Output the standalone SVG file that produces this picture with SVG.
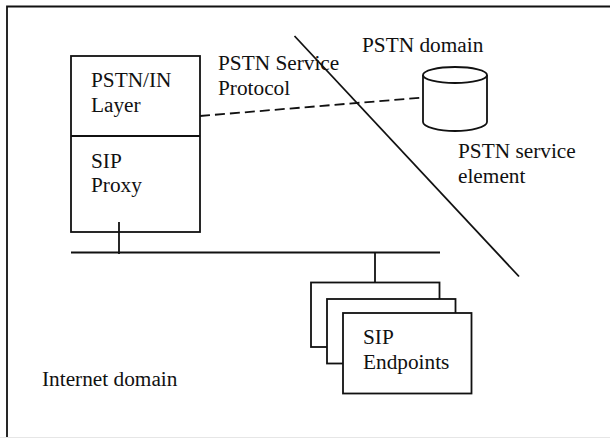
<svg xmlns="http://www.w3.org/2000/svg" width="610" height="438" viewBox="0 0 610 438">
<style>
text{font-family:"Liberation Serif","Times New Roman",serif;font-size:21.300px;fill:#111}
.s{fill:#fff;stroke:#111;stroke-width:1.800}
.l{fill:none;stroke:#111;stroke-width:1.800}
</style>
<rect width="610" height="438" fill="#fff"/>
<rect x="0" y="437" width="610" height="1" fill="#e6e6e6"/>
<g id="frame"><path class="l" d="M7 437V6.500H610"/></g>
<g id="connectors">
<path class="l" d="M71 252.500H440"/>
<path class="l" d="M119 222V254"/>
<path class="l" d="M375 252V284"/>
<path class="l" d="M294.500 36L519 276.500"/>
<path class="l" stroke-dasharray="10 5" d="M200 116L423 97.500"/>
</g>
<g id="proxy">
<rect class="s" x="71" y="56" width="129" height="176"/>
<path class="l" d="M71 136H200"/>
<path class="l" d="M119 222V232"/>
<text x="91" y="87">PSTN/IN</text>
<text x="91" y="112">Layer</text>
<text x="91" y="168">SIP</text>
<text x="91" y="192">Proxy</text>
</g>
<g id="service-element">
<path class="s" d="M423 75V122C423 127 439 131 455 131C471 131 487 127 487 122V75"/>
<ellipse class="s" cx="455" cy="75" rx="32" ry="8"/>
</g>
<g id="endpoints">
<rect class="s" x="311" y="282.500" width="128.500" height="64.500"/>
<rect class="s" x="327" y="299" width="128.500" height="64.500"/>
<rect class="s" x="343" y="313" width="128.500" height="80.500"/>
<text x="363" y="344">SIP</text>
<text x="363" y="369">Endpoints</text>
</g>
<g id="labels">
<text x="218" y="70">PSTN Service</text>
<text x="218" y="95">Protocol</text>
<text x="362" y="52">PSTN domain</text>
<text x="458" y="158">PSTN service</text>
<text x="458" y="183">element</text>
<text x="42" y="386">Internet domain</text>
</g>
</svg>
